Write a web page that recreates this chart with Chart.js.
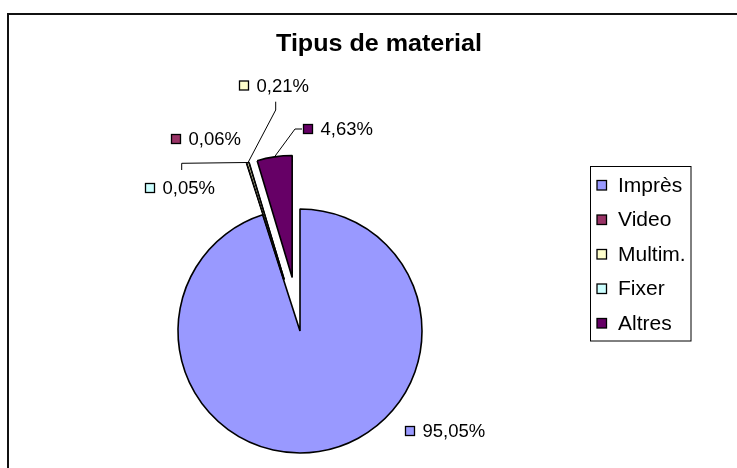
<!DOCTYPE html>
<html><head><meta charset="utf-8">
<script src="https://cdn.jsdelivr.net/npm/chart.js@4/dist/chart.umd.min.js"></script>
<style>html,body{margin:0;padding:0;background:#fff}#wrap{width:737px;height:468px;position:relative}canvas{display:block}</style>
</head><body><div id="wrap"><canvas id="c" width="737" height="468"></canvas></div>
<script>
// ---- data ----
const chartTitle = 'Tipus de material';
const categories = ['Imprès', 'Video', 'Multim.', 'Fixer', 'Altres'];
const shares = [95.05, 0.06, 0.21, 0.05, 4.63];
const valueLabels = ['95,05%', '0,06%', '0,21%', '0,05%', '4,63%'];

// ---- styles / layout ----
const colors = ['#9999FF', '#993366', '#FFFFCC', '#CCFFFF', '#660066'];
const borderWidths = [1.6, 1, 1, 1, 1.6];
const explodePx = [0, 54, 54, 54, 54];
const FONT = "'Liberation Sans', Arial, sans-serif";
// label square centre relative to pie centre
const labelPlacement = [
  {dx: 110, dy: 100},
  {dx: -124, dy: -192},
  {dx: -56, dy: -245.5},
  {dx: -150, dy: -143},
  {dx: 8, dy: -202}
];
// leader polyline (after arc anchor) relative to label square centre
const leaders = [
  null,
  null,
  [[31.7, 24.5], [31.7, 16.2]],
  [[31.7, -24.7], [31.7, -18]],
  [[-13, 0], [-6, 0]]
];

const decor = {
  id: 'decor',
  afterDatasetUpdate(chart, args) {
    args.meta.data.forEach((el, i) => {
      const d = explodePx[i] || 0;
      if (!d) return;
      const mid = (el.startAngle + el.endAngle) / 2;
      el.x += Math.cos(mid) * d;
      el.y += Math.sin(mid) * d;
    });
  },
  beforeDraw(chart) {
    const ctx = chart.ctx;
    ctx.save();
    ctx.fillStyle = '#fff';
    ctx.fillRect(0, 0, chart.width, chart.height);
    // chart frame (extends past the right and bottom edges)
    ctx.strokeStyle = '#111';
    ctx.lineWidth = 2;
    ctx.strokeRect(8, 14, 800, 800);
    // title
    ctx.fillStyle = '#000';
    ctx.font = 'bold 23px ' + FONT;
    ctx.textBaseline = 'alphabetic';
    const w = ctx.measureText(chartTitle).width;
    const sx = 206 / w;
    ctx.translate(379, 51);
    ctx.scale(sx, 1);
    ctx.textAlign = 'center';
    ctx.fillText(chartTitle, 0, 0);
    ctx.restore();
  },
  afterDraw(chart) {
    const ctx = chart.ctx;
    const meta = chart.getDatasetMeta(0);
    const ca = chart.chartArea;
    const cx = (ca.left + ca.right) / 2, cy = (ca.top + ca.bottom) / 2;
    ctx.save();
    ctx.font = '18.5px ' + FONT;
    ctx.textBaseline = 'middle';
    ctx.textAlign = 'left';
    meta.data.forEach((el, i) => {
      const p = labelPlacement[i];
      const sxq = cx + p.dx, syq = cy + p.dy;
      if (leaders[i]) {
        const mid = (el.startAngle + el.endAngle) / 2;
        const ax = el.x + Math.cos(mid) * el.outerRadius;
        const ay = el.y + Math.sin(mid) * el.outerRadius;
        ctx.beginPath();
        ctx.moveTo(ax, ay);
        leaders[i].forEach(pt => ctx.lineTo(sxq + pt[0], syq + pt[1]));
        ctx.strokeStyle = '#000';
        ctx.lineWidth = 1;
        ctx.stroke();
      }
      ctx.fillStyle = colors[i];
      ctx.fillRect(sxq - 4.5, syq - 4.5, 9, 9);
      ctx.strokeStyle = '#000';
      ctx.lineWidth = 1.3;
      ctx.strokeRect(sxq - 4.5, syq - 4.5, 9, 9);
      ctx.fillStyle = '#000';
      ctx.fillText(valueLabels[i], sxq + 12.5, syq + 1);
    });
    // legend box
    ctx.strokeStyle = '#000';
    ctx.lineWidth = 1;
    ctx.strokeRect(590.5, 166.5, 100.5, 174.5);
    ctx.font = '21px ' + FONT;
    categories.forEach((name, i) => {
      const y = 185 + i * 34.5;
      ctx.fillStyle = colors[i];
      ctx.fillRect(597, y - 4.5, 9.5, 9.5);
      ctx.strokeStyle = '#000';
      ctx.lineWidth = 1.3;
      ctx.strokeRect(597, y - 4.5, 9.5, 9.5);
      ctx.fillStyle = '#000';
      ctx.fillText(name, 618, y + 1);
    });
    ctx.restore();
  }
};

new Chart(document.getElementById('c'), {
  type: 'pie',
  data: {
    labels: categories,
    datasets: [{
      data: shares,
      backgroundColor: colors,
      borderColor: '#000',
      borderWidth: borderWidths,
      hoverOffset: 0,
      clip: false
    }]
  },
  options: {
    responsive: false,
    animation: false,
    events: [],
    rotation: 0,
    radius: 122,
    layout: {padding: {left: 178, right: 315, top: 209, bottom: 15}},
    plugins: {
      legend: {display: false},
      title: {display: false},
      tooltip: {enabled: false}
    }
  },
  plugins: [decor]
});
</script>
</body></html>
